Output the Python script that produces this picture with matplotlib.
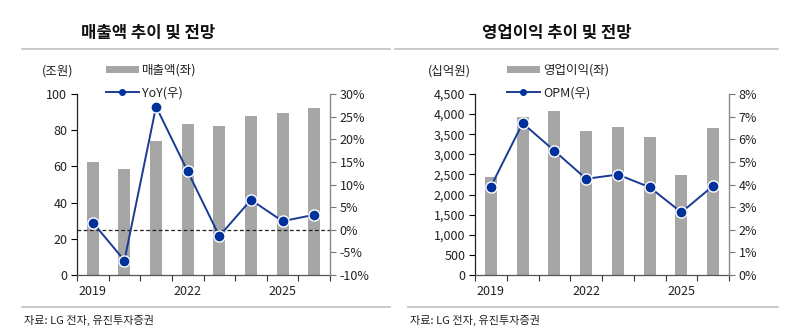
import numpy as np
import matplotlib.pyplot as plt
from matplotlib.patches import Patch
from matplotlib.lines import Line2D
from matplotlib.ticker import FuncFormatter

plt.rcParams['font.family'] = ['Noto Sans CJK KR', 'DejaVu Sans']

# data
years = ['2019', '2020', '2021', '2022', '2023', '2024', '2025', '2026']
sales = [62.4, 58.3, 74.0, 83.6, 82.5, 87.8, 89.5, 92.4]          # 조원
sales_yoy = [1.6, -6.8, 27.2, 12.9, -1.4, 6.6, 1.9, 3.3]           # %
op_profit = [2448, 3927, 4076, 3569, 3678, 3437, 2498, 3661]       # 십억원
opm = [3.91, 6.71, 5.49, 4.25, 4.44, 3.88, 2.77, 3.94]             # %
shown_years = ['2019', '2022', '2025']

W, H = 785, 332
BAR = '#a6a6a6'
LINE = '#1a3a95'
MARK = '#00309a'
TXT = '#222222'

fig = plt.figure(figsize=(W / 100, H / 100), dpi=100)


def fx(px):
    return px / W


def fy(py):
    return 1 - py / H


def panel(x0, x1, bars, line, ylim_l, yticks_l, fmt_l, ylim_r, yticks_r,
          unit, unit_x, bar_label, line_label, leg_x, zero_line):
    ax = fig.add_axes([fx(x0), fy(275), fx(x1 - x0), fy(94) - fy(275)])
    x = np.arange(len(years))
    ax.bar(x, bars, width=0.38, color=BAR, zorder=1)
    ax.set_xlim(-0.5, len(years) - 0.5)
    ax.set_ylim(*ylim_l)
    ax.set_yticks(yticks_l)
    ax.yaxis.set_major_formatter(FuncFormatter(fmt_l))

    # category boundary ticks, labels only on some years
    ax.set_xticks(np.arange(-0.5, len(years)), minor=True)
    ax.set_xticks([years.index(y) for y in shown_years])
    ax.set_xticklabels(shown_years)
    ax.tick_params(axis='x', which='major', length=0, pad=7)
    ax.tick_params(axis='x', which='minor', length=4, width=0.8, color='#333333')
    ax.tick_params(axis='y', length=4, width=0.8, pad=3)
    ax.tick_params(labelsize=9, labelcolor=TXT)

    for s in ['top', 'right']:
        ax.spines[s].set_visible(False)
    ax.spines['left'].set_color('#222222')
    ax.spines['bottom'].set_color('#555555')
    ax.spines['left'].set_linewidth(0.9)
    ax.spines['bottom'].set_linewidth(0.9)

    ax2 = ax.twinx()
    ax2.set_ylim(*ylim_r)
    ax2.set_yticks(yticks_r)
    ax2.yaxis.set_major_formatter(FuncFormatter(lambda v, p: f'{v:.0f}%'))
    ax2.tick_params(axis='y', length=4, width=0.8, pad=3, color='#777777',
                    labelsize=9, labelcolor=TXT)
    for s in ['top', 'left', 'bottom']:
        ax2.spines[s].set_visible(False)
    ax2.spines['right'].set_color('#888888')
    ax2.spines['right'].set_linewidth(1.0)
    if zero_line:
        ax2.axhline(0, color='#222222', lw=0.9, ls=(0, (3, 2)), zorder=1)
    ax2.plot(x, line, color=LINE, lw=1.4, marker='o', ms=8,
             markerfacecolor=MARK, markeredgecolor='white', markeredgewidth=1.0,
             zorder=3)

    fig.text(fx(unit_x), fy(71), unit, fontsize=9, color=TXT,
             ha='left', va='center')
    handles = [Patch(facecolor=BAR, edgecolor='none'),
               Line2D([], [], color=LINE, lw=1.4, marker='o', ms=4,
                      markerfacecolor=MARK, markeredgecolor=MARK)]
    fig.legend(handles, [bar_label, line_label], loc='upper left',
               bbox_to_anchor=(fx(leg_x), fy(64)), frameon=False, fontsize=9,
               handlelength=2.6, handleheight=0.55, handletextpad=0.3,
               labelspacing=0.75, borderpad=0, borderaxespad=0,
               labelcolor=TXT)
    return ax


panel(77, 330, sales, sales_yoy, (0, 100), range(0, 101, 20),
      lambda v, p: f'{v:.0f}', (-10, 30), range(-10, 31, 5),
      '(조원)', 42, '매출액(좌)', 'YoY(우)', 106, True)
panel(475, 729, op_profit, opm, (0, 4500), range(0, 4501, 500),
      lambda v, p: f'{v:,.0f}', (0, 8), range(0, 9, 1),
      '(십억원)', 428, '영업이익(좌)', 'OPM(우)', 507, False)

# titles, rules and sources
fig.text(fx(148), fy(33), '매출액 추이 및 전망', fontsize=12, fontweight='bold',
         ha='center', va='center', color='#111111')
fig.text(fx(557), fy(33), '영업이익 추이 및 전망', fontsize=12, fontweight='bold',
         ha='center', va='center', color='#111111')
for (a, b) in [(22, 390), (395, 778)]:
    fig.add_artist(Line2D([fx(a), fx(b)], [fy(49), fy(49)], color='#c0c0c0', lw=1.2))
for (a, b) in [(22, 390), (408, 778)]:
    fig.add_artist(Line2D([fx(a), fx(b)], [fy(307), fy(307)], color='#c0c0c0', lw=1.2))
fig.text(fx(24), fy(320), '자료: LG 전자, 유진투자증권', fontsize=8, color=TXT,
         ha='left', va='center')
fig.text(fx(410), fy(320), '자료: LG 전자, 유진투자증권', fontsize=8, color=TXT,
         ha='left', va='center')

fig.savefig('out.png', dpi=100)
